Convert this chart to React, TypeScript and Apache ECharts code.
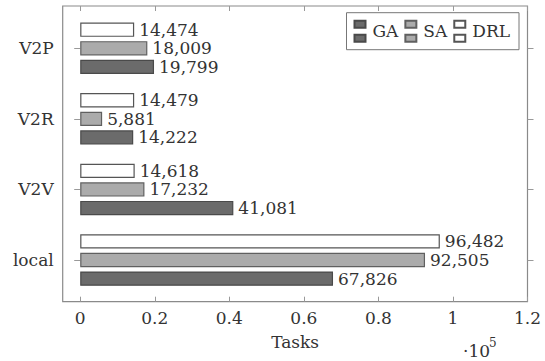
import React, { useEffect, useRef } from "react";
import * as echarts from "echarts";

const categories = ["local", "V2V", "V2R", "V2P"];
const gaValues = [67826, 41081, 14222, 19799];
const saValues = [92505, 17232, 5881, 18009];
const drlValues = [96482, 14618, 14479, 14474];
const seriesNames = ["GA", "SA", "DRL"];
const xTicks = [0, 20000, 40000, 60000, 80000, 100000, 120000];

const FONT = "DejaVu Serif";
const TEXT = "#333";

const fmt = (v: number) => String(v).replace(/\B(?=(\d{3})+(?!\d))/g, ",");

export default function App() {
  const ref = useRef<HTMLDivElement>(null);
  useEffect(() => {
    document.body.style.margin = "0";
    const chart = echarts.init(ref.current!, null, { renderer: "svg" });
    const xMin = -4700;
    const xMax = 120000;
    const label = {
      show: true,
      position: "right",
      distance: 5,
      fontFamily: FONT,
      fontSize: 17,
      color: TEXT,
      formatter: (p: any) => fmt(p.value),
    };
    const mkSeries = (name: string, data: number[], fill: string, border: string) => ({
      type: "bar",
      name,
      data,
      xAxisIndex: 2,
      yAxisIndex: 0,
      barWidth: 14.3,
      barGap: "30%",
      itemStyle: { color: fill, borderColor: border, borderWidth: 1.2 },
      label,
    });
    chart.setOption({
      animation: false,
      backgroundColor: "#fff",
      textStyle: { fontFamily: FONT },
      grid: [
        { left: 62.7, right: 17.5, top: 6, bottom: 59.3, show: true, borderColor: "#8a8a8a", borderWidth: 1.2, backgroundColor: "transparent" },
        { left: 62.7, right: 17.5, top: 13, bottom: 65.7 },
      ],
      legend: {
        data: seriesNames,
        right: 26,
        top: 12.7,
        orient: "horizontal",
        selectedMode: false,
        backgroundColor: "#fff",
        borderColor: "#777",
        borderWidth: 1,
        borderRadius: 0,
        padding: [7, 9, 7, 7],
        itemGap: 6,
        itemWidth: 11,
        itemHeight: 21,
        icon: "path://M0,0H11V7H0Z M0,14H11V21H0Z",
        textStyle: { fontFamily: FONT, fontSize: 17, color: TEXT, padding: [0, 0, 0, 2] },
      },
      xAxis: [
        {
          gridIndex: 0,
          type: "value",
          min: xMin,
          max: xMax,
          position: "bottom",
          axisLine: { show: false },
          splitLine: { show: false },
          axisTick: { show: true, inside: true, length: 5, customValues: xTicks, lineStyle: { color: "#999" } },
          axisLabel: {
            show: true,
            margin: 8,
            customValues: xTicks,
            fontFamily: FONT,
            fontSize: 17,
            color: TEXT,
            formatter: (v: number) => String(Math.round(v / 1000) / 100),
          },
          name: "Tasks",
          nameLocation: "middle",
          nameGap: 32,
          nameTextStyle: { fontFamily: FONT, fontSize: 17, color: TEXT },
        },
        {
          gridIndex: 0,
          type: "value",
          min: xMin,
          max: xMax,
          position: "top",
          axisLine: { show: false },
          splitLine: { show: false },
          axisTick: { show: true, inside: true, length: 5, customValues: xTicks, lineStyle: { color: "#999" } },
          axisLabel: { show: false },
        },
        {
          gridIndex: 1,
          type: "value",
          min: xMin,
          max: xMax,
          show: false,
          splitLine: { show: false },
        },
      ],
      yAxis: [
        {
          gridIndex: 1,
          type: "category",
          data: categories,
          position: "left",
          axisLine: { show: false },
          axisTick: { show: true, alignWithLabel: true, length: 6, lineStyle: { color: "#999" } },
          axisLabel: { margin: 9, fontFamily: FONT, fontSize: 17, color: TEXT },
        },
        {
          gridIndex: 1,
          type: "category",
          data: categories,
          position: "right",
          axisLine: { show: false },
          axisTick: { show: true, alignWithLabel: true, length: 6, lineStyle: { color: "#999" } },
          axisLabel: { show: false },
        },
        {
          gridIndex: 0,
          type: "value",
          show: false,
          splitLine: { show: false },
        },
      ],
      series: [
        mkSeries(seriesNames[2], drlValues, "#ffffff", "#555555"),
        mkSeries(seriesNames[1], saValues, "#ababab", "#606060"),
        mkSeries(seriesNames[0], gaValues, "#6b6b6b", "#4a4a4a"),
      ],
      graphic: [
        { type: "text", left: 463, top: 342, style: { text: "·10", fontFamily: FONT, fontSize: 17, fill: TEXT } },
        { type: "text", left: 489, top: 337, style: { text: "5", fontFamily: FONT, fontSize: 12, fill: TEXT } },
      ],
    });
    return () => chart.dispose();
  }, []);
  return <div ref={ref} style={{ position: "fixed", left: 0, top: 0, width: 545, height: 361 }} />;
}
